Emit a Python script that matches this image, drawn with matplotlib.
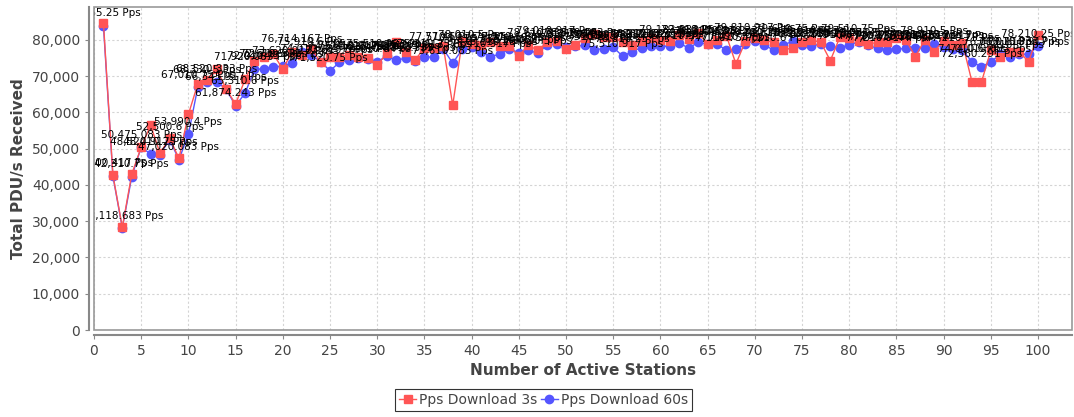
import numpy as np
import matplotlib.pyplot as plt
from matplotlib.patches import Rectangle
from matplotlib.ticker import FuncFormatter, MultipleLocator
from matplotlib.transforms import ScaledTranslation

stations = np.arange(1, 101)

# Pps Download 3s
pps_3s = [
    84775.25, 42790.12, 28310.5, 43020.5, 50410.75, 56480.333, 48700.917, 53010.4, 47310.75, 59480.2,
    67920.583, 68830.167, 72010.25, 66510.5, 62290.25, 69150.917, 74320.6, 75410.083, 76120.75, 71930.4,
    76810.5, 75950.333, 77480.5, 74030.917, 75420.25, 75380.6, 75910.083, 75430.5, 75120.75, 73010.333,
    76290.917, 79310.5, 76610.25, 74520.083, 77690.6, 77910.75, 78220.333, 62010.5, 79610.917, 78820.25,
    78610.083, 79310.4, 78230.75, 78210.5, 75610.333, 78620.917, 77110.25, 79310.6, 79620.083, 77410.75,
    78610.5, 80490.333, 81640.917, 80800.25, 80850.6, 79310.083, 78600.75, 79780.5, 80440.333, 80010.917,
    79810.25, 81400.6, 80210.083, 81950.75, 78850.5, 80010.333, 81080.917, 73420.25, 79610.6, 80420.083,
    80010.75, 79310.5, 77110.333, 77910.917, 79310.25, 80010.6, 79310.083, 74310.75, 80700.5, 80420.333,
    79810.917, 78910.25, 79310.6, 79310.083, 80420.75, 80010.5, 75420.333, 80010.917, 76810.25, 79810.6,
    78610.083, 79110.75, 68510.5, 68310.333, 77110.917, 75420.25, 76810.6, 76810.083, 74010.75, 81410.5,
]

# Pps Download 60s
pps_60s = [
    83965.25, 42500.417, 28118.683, 42310.75, 50475.083, 48520.917, 48410.25, 52500.6, 47020.083, 53990.4,
    67010.75, 68330.5, 68520.333, 66345.917, 61874.243, 65310.6, 71920.083, 72010.75, 72610.5, 72710.333,
    73620.917, 76714.167, 75910.6, 74010.083, 71520.75, 73810.5, 74510.333, 75010.917, 74810.25, 74010.6,
    75510.083, 74520.75, 74910.5, 74310.333, 75290.917, 75310.25, 77510.6, 73610.083, 77410.75, 78010.5,
    76810.333, 75410.917, 76110.25, 77510.6, 76510.083, 77210.75, 76310.5, 78610.333, 79010.917, 78010.25,
    78210.6, 78610.083, 77310.75, 77610.5, 78010.333, 75510.917, 76810.25, 77910.6, 78310.083, 78210.75,
    78320.5, 79183.333, 77710.917, 79410.25, 78810.6, 78910.083, 77110.75, 77410.5, 79010.333, 79810.917,
    78610.25, 77210.6, 78610.083, 79610.75, 78610.5, 78210.333, 79010.917, 78210.25, 77910.6, 78610.083,
    79510.75, 78510.5, 77710.333, 77210.917, 77410.25, 77710.6, 77710.083, 77910.75, 78910.5, 78010.333,
    77610.917, 77210.25, 74010.6, 72560.291, 74010.083, 76010.75, 75210.5, 76010.333, 76110.917, 78210.25,
]

series_names = ['Pps Download 3s', 'Pps Download 60s']

red = '#ff5555'
blue = '#5555ff'
grey_txt = '#444444'

fig = plt.figure(figsize=(10.74, 4.17), dpi=100)
ax = fig.add_axes([94 / 1074, 1 - 330 / 417, (1072 - 94) / 1074, (330 - 7) / 417])

# blue first, red drawn on top
ax.plot(stations, pps_60s, '-o', color=blue, lw=1, ms=6, mec=blue, zorder=3, label=series_names[1])
ax.plot(stations, pps_3s, '-s', color=red, lw=1, ms=6, mec=red, zorder=4, label=series_names[0])

# item labels above the 60s points
off = ScaledTranslation(0, 9 / 72, fig.dpi_scale_trans)
for xi, v in zip(stations, pps_60s):
    txt = f'{v:,.3f}'.rstrip('0').rstrip('.') + ' Pps'
    ax.text(xi, v, txt, transform=ax.transData + off, ha='center', va='center',
            fontsize=7.5, color='black', clip_on=True, zorder=5)

ax.set_xlim(0, 103.6)
ax.set_ylim(0, 89100)
ax.xaxis.set_major_locator(MultipleLocator(5))
ax.yaxis.set_major_locator(MultipleLocator(10000))
ax.yaxis.set_major_formatter(FuncFormatter(lambda v, p: f'{int(v):,}'))

ax.grid(True, color='#d4d4d4', linestyle=(0, (2, 2)), lw=0.8)
ax.set_axisbelow(True)

# offset axis lines like the original, plus a plot outline
for s in ['top', 'right']:
    ax.spines[s].set_visible(False)
for s in ['left', 'bottom']:
    ax.spines[s].set_position(('outward', 3.5))
    ax.spines[s].set_color('#888888')
    ax.spines[s].set_linewidth(1.5)
ax.add_patch(Rectangle((0, 0), 1, 1, transform=ax.transAxes, fill=False,
                       edgecolor='#999999', lw=1.2, clip_on=False, zorder=6))

ax.tick_params(axis='both', colors='#888888', labelcolor=grey_txt, labelsize=10, length=3)

ax.set_xlabel('Number of Active Stations', fontsize=11, fontweight='bold', color=grey_txt, labelpad=4)
ax.set_ylabel('Total PDU/s Received', fontsize=11, fontweight='bold', color=grey_txt, labelpad=4)

handles, labels = ax.get_legend_handles_labels()
leg = fig.legend(handles[::-1], labels[::-1], loc='center', bbox_to_anchor=(0.506, 0.041), ncol=2,
                 fontsize=10, frameon=True, fancybox=False, handlelength=1.2, handletextpad=0.2,
                 columnspacing=0.3, borderpad=0.3, borderaxespad=0)
leg.get_frame().set_edgecolor('black')
leg.get_frame().set_linewidth(0.8)
for t in leg.get_texts():
    t.set_color(grey_txt)

fig.savefig('out.png', dpi=100)
